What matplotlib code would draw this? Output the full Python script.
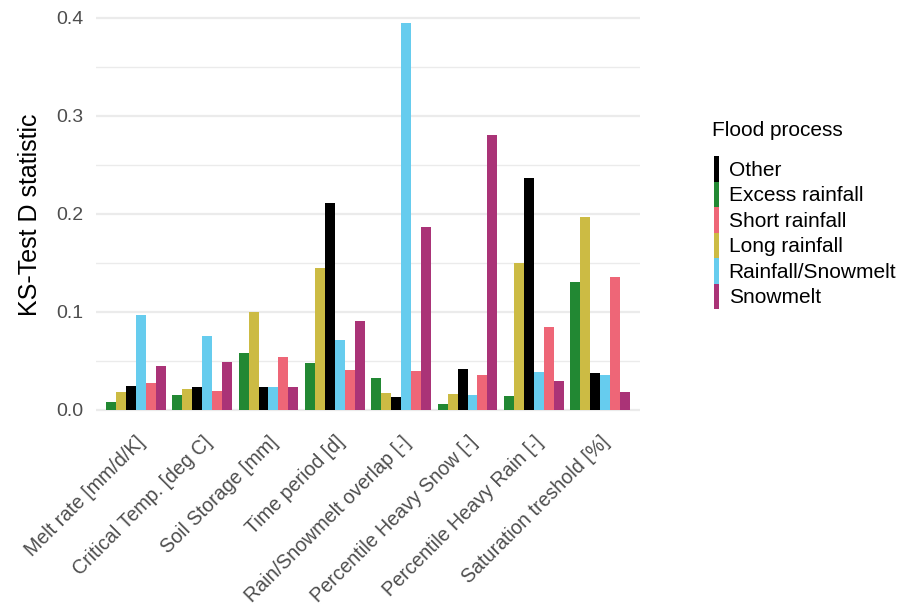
import numpy as np
import matplotlib
matplotlib.use("Agg")
import matplotlib.pyplot as plt
from matplotlib.patches import Rectangle

# --- data ---
parameters = ["Melt rate [mm/d/K]", "Critical Temp. [deg C]", "Soil Storage [mm]",
              "Time period [d]", "Rain/Snowmelt overlap [-]", "Percentile Heavy Snow [-]",
              "Percentile Heavy Rain [-]", "Saturation treshold [%]"]

# bars are dodged in alphabetical order of the process name
excess_rainfall = [0.008, 0.015, 0.058, 0.047, 0.032, 0.006, 0.014, 0.130]
long_rainfall = [0.018, 0.021, 0.100, 0.144, 0.017, 0.016, 0.150, 0.196]
other = [0.024, 0.023, 0.023, 0.211, 0.013, 0.041, 0.236, 0.037]
rainfall_snowmelt = [0.096, 0.075, 0.023, 0.071, 0.395, 0.015, 0.038, 0.035]
short_rainfall = [0.027, 0.019, 0.054, 0.040, 0.039, 0.035, 0.084, 0.135]
snowmelt = [0.044, 0.049, 0.023, 0.090, 0.186, 0.280, 0.029, 0.018]

dodge_order = ["Excess rainfall", "Long rainfall", "Other", "Rainfall/Snowmelt",
               "Short rainfall", "Snowmelt"]
werte = [excess_rainfall, long_rainfall, other, rainfall_snowmelt, short_rainfall, snowmelt]
legend_order = ["Other", "Excess rainfall", "Short rainfall", "Long rainfall",
                "Rainfall/Snowmelt", "Snowmelt"]
farger = {"Other": "#000000", "Excess rainfall": "#228833", "Short rainfall": "#EE6677",
          "Long rainfall": "#CCBB44", "Rainfall/Snowmelt": "#66CCEE", "Snowmelt": "#AA3377"}

plt.rcParams["font.family"] = ["Liberation Sans", "DejaVu Sans"]

fig = plt.figure(figsize=(9.12, 6.1), dpi=100)
ax = fig.add_axes([96 / 912, (610 - 429) / 610, 544 / 912, 429 / 610])

x = np.arange(1, len(parameters) + 1)
bredd = 0.9 / len(dodge_order)
for i, (namn, v) in enumerate(zip(dodge_order, werte)):
    pos = x - 0.45 + bredd * (i + 0.5)
    ax.bar(pos, v, width=bredd, color=farger[namn], linewidth=0, zorder=2)

ax.set_xlim(0.4, 8.6)
ax.set_ylim(-0.0199, 0.418)
ax.set_yticks([0.0, 0.1, 0.2, 0.3, 0.4])
ax.set_yticks([0.05, 0.15, 0.25, 0.35], minor=True)
ax.yaxis.set_major_formatter(matplotlib.ticker.FormatStrFormatter("%.1f"))
ax.grid(axis="y", which="major", color="#EBEBEB", linewidth=1.6, zorder=0)
ax.grid(axis="y", which="minor", color="#EBEBEB", linewidth=1.0, zorder=0)
ax.set_axisbelow(True)
for s in ax.spines.values():
    s.set_visible(False)
ax.tick_params(axis="both", which="both", length=0, colors="#4D4D4D", labelsize=14)
ax.tick_params(axis="y", pad=9)
ax.set_xticks(x)
ax.set_xticklabels(parameters, rotation=45, ha="right", rotation_mode="anchor",
                   color="#4D4D4D", fontsize=14.1)
ax.tick_params(axis="x", pad=2.5)
ax.set_ylabel("KS-Test D statistic", fontsize=18, color="black")
ax.yaxis.set_label_coords(-0.099, 0.5)

fig.text(712 / 912, 1 - 131 / 610, "Flood process", fontsize=15, va="center", ha="left")
handles = [Rectangle((0, 0), 1, 1, color=farger[n], linewidth=0) for n in legend_order]
leg = fig.legend(handles, legend_order, loc="upper left",
                 bbox_to_anchor=(714 / 912, 1 - 156 / 610), frameon=False, borderpad=0,
                 fontsize=15, handlelength=0.25, handleheight=1.51,
                 handletextpad=0.45, labelspacing=0.0, borderaxespad=0)

fig.savefig("out.png", dpi=100)
